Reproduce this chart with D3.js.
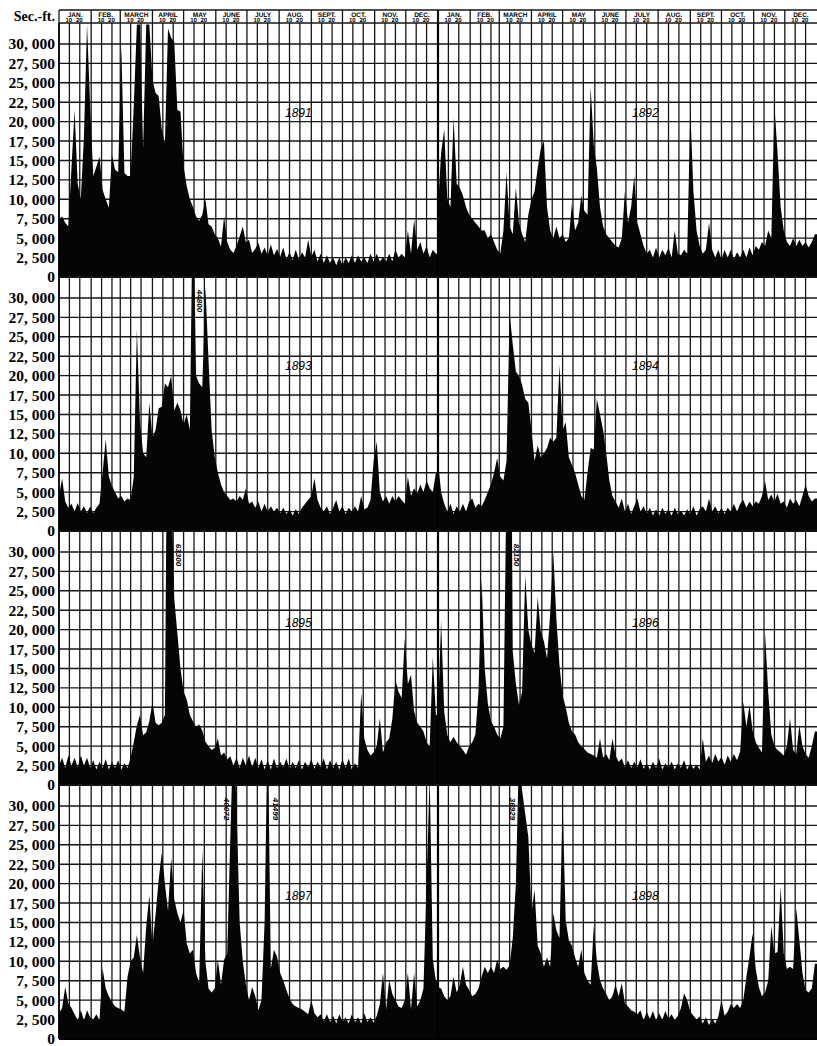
<!DOCTYPE html>
<html>
<head>
<meta charset="utf-8">
<script src="https://cdnjs.cloudflare.com/ajax/libs/d3/7.8.5/d3.min.js"></script>
<style>
  body { margin: 0; background: #fff; }
  svg { display: block; }
</style>
</head>
<body>
<div id="chart"></div>
<script>
var flow1891 = [
  7500, 7800, 7000, 6500, 14000, 21500, 12000, 10000, 18000, 32500,
  22000, 13000, 14200, 15500, 11200, 10000, 8900, 15700, 13800, 13500,
  29700, 13400, 13000, 13000, 22000, 32500, 32500, 16600, 32500, 32500,
  25400, 23700, 23300, 19000, 17200, 32000, 30800, 30300, 21500, 21300,
  14200, 11700, 10000, 9000, 7800, 7200, 8000, 10000, 6800, 6500,
  5500, 5000, 3900, 7800, 4500, 3500, 3100, 4000, 5200, 6500,
  4400, 4800, 3100, 3600, 4400, 3000, 3800, 2800, 4200, 2800,
  3600, 2600, 3800, 2300, 3200, 2200, 3500, 2300, 3200, 2500,
  4800, 2600, 3500, 2000, 3000, 1800, 2800, 1800, 2500, 1500,
  2500, 1500, 2500, 1800, 2800, 1800, 2800, 2000, 2500, 1800,
  3000, 2000, 3000, 2000, 2500, 2000, 3000, 2000, 3500, 2500,
  3000, 2500, 6000, 3000, 7400, 3500, 4500, 3000, 4000, 2500,
  3500, 3000
];
var flow1892 = [
  9000, 16000, 19000, 10000, 9000, 20500, 12000, 11500, 10500, 9000,
  8000, 7500, 7000, 6500, 6000, 6000, 5000, 5500, 4500, 3500,
  3000, 6000, 13500, 6500, 5500, 11500, 7000, 5500, 4500, 8000,
  10000, 11000, 14000, 16500, 17500, 9000, 6000, 5000, 6500, 5000,
  5500, 4500, 5000, 9500, 6000, 7000, 10500, 8500, 8000, 24500,
  17000, 14000, 9000, 6500, 5500, 5000, 4500, 4000, 3800, 5000,
  11000, 7000, 9000, 13000, 7000, 5500, 4000, 3000, 3500, 2500,
  3800, 2500, 3500, 2800, 3800, 2500, 6000, 3000, 2800, 3500,
  3000, 21500, 11000, 6000, 4000, 3000, 3500, 7000, 3500, 2500,
  3500, 2300, 3500, 2500, 3500, 2300, 3200, 2500, 3500, 2500,
  3800, 2800, 4000, 3500, 4500, 4000, 6000, 5000, 22000, 16000,
  9000, 6000, 4500, 4000, 5000, 4000, 4800, 4000, 4500, 3800,
  4500, 5500
];
var flow1893 = [
  4500, 6800, 3800, 3000, 3500, 2500, 3600, 2500, 3200, 2300,
  3200, 2300, 3000, 3500, 7500, 11800, 7000, 5800, 5000, 4200,
  4500, 3800, 4200, 4000, 7000, 26000, 14000, 10000, 9500, 16500,
  12000, 13000, 15800, 16000, 19000, 18500, 20000, 15500, 16500, 15500,
  13700, 15000, 13000, 44800, 20000, 19000, 18500, 31500, 22000, 13000,
  9500, 7500, 6000, 5000, 4500, 4000, 4200, 3800, 4500, 4000,
  5500, 3500, 3800, 3000, 3800, 2500, 3500, 2500, 3200, 2500,
  3000, 2300, 3000, 2200, 2800, 2000, 2800, 2200, 3000, 3500,
  4000, 4500, 6800, 4000, 3000, 2500, 3200, 2200, 3000, 4000,
  2500, 3200, 2200, 3000, 2500, 3200, 2500, 4500, 2800, 3000,
  4000, 9000, 11500, 5000, 3800, 4500, 3500, 4500, 3800, 4500,
  4000, 3500, 7000, 4500, 5500, 4800, 6000, 5000, 6500, 5500,
  5000, 7500
];
var flow1894 = [
  9000, 5000, 3500, 2500, 3500, 2200, 3200, 2500, 3500, 2500,
  3800, 4200, 3000, 3500, 3200, 4000, 5000, 6000, 7500, 9400,
  7000, 6500, 9000, 28000, 24000, 20500, 20000, 18800, 17000, 16500,
  13000, 9000, 11000, 9500, 10000, 10700, 12000, 11500, 12000, 21400,
  13000, 14000, 9500, 8500, 7500, 6000, 4500, 4000, 7500, 10700,
  10500, 17000, 15000, 13000, 10000, 6500, 4500, 3800, 3000, 4200,
  2500, 3500, 2200, 3200, 4200, 2500, 3200, 2200, 3000, 2000,
  2800, 2000, 3000, 2200, 2800, 2000, 3000, 2200, 2600, 2000,
  2800, 2200, 3200, 2000, 2800, 3200, 2500, 4200, 2500, 3200,
  2300, 3000, 2200, 3000, 2500, 3500, 2500, 3500, 4000, 3000,
  3800, 3200, 3800, 3500, 4500, 6400, 4000, 4700, 3800, 4800,
  3500, 3800, 3000, 4200, 3500, 4000, 3200, 4500, 6000, 4500,
  3800, 4200
];
var flow1895 = [
  2500, 3500, 2200, 3800, 2500, 3500, 2300, 3800, 2500, 3500,
  2200, 3200, 2000, 3000, 2200, 3300, 2000, 3000, 2200, 3200,
  2000, 2800, 2200, 3500, 5500, 7700, 9000, 6400, 6800, 8200,
  10700, 8000, 7700, 8000, 9000, 63300, 40000, 24000, 19500, 15000,
  12000, 11000, 9000, 8200, 7500, 7800, 7000, 5600, 5000, 4500,
  4800, 6000, 3800, 4200, 3300, 3700, 2500, 3500, 2200, 3500,
  2500, 3800, 2300, 3500, 2200, 3300, 2000, 3200, 2000, 3400,
  2200, 3000, 2300, 3400, 2000, 3000, 2200, 3200, 2000, 3000,
  2300, 3300, 2100, 3000, 2300, 3400, 2000, 3200, 2200, 3000,
  2000, 3300, 2200, 3400, 2000, 2800, 2200, 11800, 6000, 4500,
  3800, 4200, 5000, 8600, 4200, 5500, 6000, 8500, 13500, 12000,
  11200, 18900, 13000, 14200, 9500, 8000, 7500, 6900, 5500, 5000,
  16500, 9000
];
var flow1896 = [
  9000, 21200, 9400, 6400, 5500, 6200, 5500, 5000, 4500, 3900,
  5000, 5500, 6500, 12000, 26600, 15000, 10500, 8200, 7500, 6500,
  6000, 7500, 40000, 82150, 17200, 13000, 10300, 12000, 27000, 20000,
  18000, 17000, 24200, 19700, 18500, 16300, 22000, 30000, 21400, 15400,
  11500, 10000, 8000, 6900, 6500, 5500, 5000, 4600, 4200, 4000,
  3800, 3500, 6000, 3500, 4000, 3200, 6000, 3800, 3000, 3400,
  2300, 3200, 2200, 3000, 2300, 3300, 2100, 2800, 2000, 3000,
  2200, 3400, 2000, 2800, 2200, 3000, 2000, 2800, 2200, 3200,
  2000, 2800, 2100, 2600, 2000, 6000, 3000, 3800, 2800, 4000,
  3000, 3600, 2600, 3800, 3000, 4000, 3200, 4300, 10700, 7500,
  10300, 7000, 5500, 4800, 4200, 19500, 12000, 6500, 5000, 4500,
  4200, 3800, 5000, 8600, 4500, 4000, 7700, 5000, 4000, 3500,
  5000, 6900
];
var flow1897 = [
  3300, 4000, 6700, 4600, 4000, 3200, 2400, 3700, 2400, 3700,
  2800, 2500, 3200, 2400, 9100, 6500, 5500, 4800, 4200, 4000,
  3800, 3500, 8000, 10000, 10500, 13400, 10500, 8500, 14500, 18500,
  12000, 16000, 20500, 24000, 20000, 16500, 23300, 18000, 16200, 15000,
  16600, 12300, 11000, 11500, 8500, 7200, 24300, 10000, 6500, 6000,
  6500, 10200, 7000, 10200, 11000, 26000, 40072, 30000, 15000, 10000,
  7000, 5000, 6700, 5500, 3700, 5000, 15000, 41499, 9000, 11500,
  10600, 8500, 7500, 6300, 5200, 4500, 4200, 4000, 3800, 3500,
  3200, 5000, 3300, 2800, 3200, 2300, 3200, 2200, 3000, 2000,
  3200, 2200, 2800, 2000, 3200, 2200, 2800, 2000, 3300, 2200,
  2800, 2100, 3000, 4500, 8500, 3800, 7600, 5800, 5000, 4200,
  4000, 5000, 8500, 3800, 8500, 4200, 5000, 6500, 20000, 34000,
  10200, 7500
];
var flow1898 = [
  6700, 6500, 5500, 5000, 5500, 8000, 6000, 7000, 9300, 7000,
  6300, 5500, 5800, 6500, 8000, 9300, 8500, 9300, 8500, 10200,
  9000, 9300, 8900, 9500, 13000, 20000, 36929, 32000, 29000, 26000,
  16200, 19200, 12000, 11000, 9300, 10500, 9300, 16200, 14000, 13000,
  30500, 15300, 12700, 12000, 10500, 9300, 11500, 8500, 7500, 7000,
  14500, 10000, 7600, 6500, 5800, 5000, 5500, 7000, 5500, 7200,
  4600, 4200, 3700, 3500, 3200, 3700, 2400, 3500, 2600, 3600,
  2400, 3300, 2500, 3600, 2600, 3200, 2400, 3000, 4000, 5900,
  5000, 3500, 3000, 2500, 2900, 2000, 2800, 1800, 2600, 2000,
  2900, 5000, 3000, 3500, 4500, 4000, 4500, 4000, 5000, 8000,
  10600, 13600, 9000, 6700, 5500, 6000, 7500, 14500, 11000, 11200,
  19600, 11000, 9000, 9300, 9000, 16800, 12700, 8500, 6300, 6000,
  6500, 9700
];

var years = [1891, 1892, 1893, 1894, 1895, 1896, 1897, 1898];
var flows = [flow1891, flow1892, flow1893, flow1894, flow1895, flow1896, flow1897, flow1898];
var stepDays = 3;

var monthNames = ["JAN.", "FEB.", "MARCH", "APRIL", "MAY", "JUNE", "JULY", "AUG.", "SEPT.", "OCT.", "NOV.", "DEC."];
var monthStarts = [0, 31, 59, 90, 120, 151, 181, 212, 243, 273, 304, 334];

var yTicks = [0, 2500, 5000, 7500, 10000, 12500, 15000, 17500, 20000, 22500, 25000, 27500, 30000];
var yTickLabels = ["0", "2, 500", "5, 000", "7, 500", "10, 000", "12, 500", "15, 000",
                   "17, 500", "20, 000", "22, 500", "25, 000", "27, 500", "30, 000"];
// the last row of the original is printed with "12, 000"
var yTickLabelsLast = ["0", "2, 500", "5, 000", "7, 500", "10, 000", "12, 000", "15, 000",
                       "17, 500", "20, 000", "22, 500", "25, 000", "27, 500", "30, 000"];

// floods that run off the top of the sheet
var peakNotes = [
  {year: 1893, day: 129, text: "44800"},
  {year: 1895, day: 105, text: "63300"},
  {year: 1896, day: 69, text: "82150"},
  {year: 1897, day: 168, text: "40072"},
  {year: 1897, day: 201, text: "41499"},
  {year: 1898, day: 78, text: "36929"}
];
var noteShift = [6, 10, 6, -7, 7, -7];

var left = 59, yearW = 379, top0 = 23, rowH = 254, yMax = 32700;
var W = 817, H = 1046;
var yearLabelDx = [226, 194], yearLabelDy = [94, 93, 96, 115];

var svg = d3.select("#chart").append("svg")
    .attr("width", W)
    .attr("height", H);

svg.append("rect").attr("width", W).attr("height", H).attr("fill", "#fff");

var gridColor = "#161616";

function xScaleFor(side) {
  var x0 = left + side * yearW;
  return d3.scaleLinear().domain([0, 365]).range([x0, x0 + yearW]);
}

// header with months
var header = svg.append("g")
    .attr("font-family", "Liberation Sans, Arial, sans-serif")
    .attr("font-weight", "bold")
    .attr("text-rendering", "geometricPrecision");
header.append("line").attr("x1", left).attr("x2", W).attr("y1", 10).attr("y2", 10)
    .attr("stroke", gridColor).attr("stroke-width", 1.4);
[0, 1].forEach(function(side) {
  var x = xScaleFor(side);
  monthStarts.forEach(function(m, i) {
    var next = i < 11 ? monthStarts[i + 1] : 365;
    header.append("line")
        .attr("x1", x(m)).attr("x2", x(m)).attr("y1", 10).attr("y2", top0)
        .attr("stroke", gridColor).attr("stroke-width", side == 1 && i == 0 ? 2.2 : 1.3);
    header.append("text")
        .attr("x", x((m + next) / 2)).attr("y", 16.5)
        .attr("text-anchor", "middle")
        .attr("font-size", 6.5)
        .text(monthNames[i]);
    [10, 20].forEach(function(d) {
      header.append("text")
          .attr("x", x(m + d) - 0.5).attr("y", 22)
          .attr("text-anchor", "middle")
          .attr("font-size", 6)
          .text(d);
    });
  });
});

svg.append("text")
    .attr("x", 55).attr("y", 21)
    .attr("text-anchor", "end")
    .attr("font-family", "Liberation Serif, Times New Roman, serif")
    .attr("font-weight", "bold")
    .attr("font-size", 14)
    .text("Sec.-ft.");

var defs = svg.append("defs");

for (var r = 0; r < 4; r++) {
  drawRow(r);
}

function drawRow(r) {
  var rowTop = top0 + r * rowH;
  var y = d3.scaleLinear().domain([0, yMax]).range([rowTop + rowH, rowTop]);
  var row = svg.append("g").attr("class", "row");

  // horizontal grid
  row.selectAll("line.h")
      .data(yTicks.slice(1).concat([yMax]))
      .enter().append("line")
      .attr("class", "h")
      .attr("x1", left).attr("x2", W)
      .attr("y1", function(d) { return y(d); })
      .attr("y2", function(d) { return y(d); })
      .attr("stroke", gridColor).attr("stroke-width", 1.4);

  [0, 1].forEach(function(side) {
    var idx = r * 2 + side;
    var x = xScaleFor(side);
    var gridDays = [];
    monthStarts.forEach(function(m) { gridDays.push(m, m + 10, m + 20); });

    row.selectAll("line.v" + side)
        .data(gridDays)
        .enter().append("line")
        .attr("class", "v" + side)
        .attr("x1", function(d) { return x(d); })
        .attr("x2", function(d) { return x(d); })
        .attr("y1", rowTop).attr("y2", rowTop + rowH)
        .attr("stroke", gridColor).attr("stroke-width", 1.3);

    var pts = flows[idx].map(function(v, i) { return {day: i * stepDays, v: v}; });
    pts.push({day: 365, v: flows[idx][flows[idx].length - 1]});

    var clipId = "clip" + idx;
    defs.append("clipPath").attr("id", clipId)
      .append("rect")
        .attr("x", x(0)).attr("y", rowTop)
        .attr("width", yearW).attr("height", rowH);

    var area = d3.area()
        .x(function(d) { return x(d.day); })
        .y0(y(0))
        .y1(function(d) { return y(d.v); });

    row.append("path")
        .datum(pts)
        .attr("clip-path", "url(#" + clipId + ")")
        .attr("fill", "#050505")
        .attr("d", area);

    row.append("text")
        .attr("x", x(0) + yearLabelDx[side])
        .attr("y", rowTop + yearLabelDy[r])
        .attr("font-family", "Liberation Sans, Arial, sans-serif")
        .attr("font-style", "italic")
        .attr("font-size", 12)
        .text(years[idx]);

    peakNotes.forEach(function(n, k) {
      if (n.year != years[idx]) return;
      var cx = x(n.day) + noteShift[k], cy = rowTop + 24;
      row.append("text")
          .attr("x", cx).attr("y", cy)
          .attr("text-anchor", "middle")
          .attr("dominant-baseline", "middle")
          .attr("transform", "rotate(90," + cx + "," + cy + ")")
          .attr("font-family", "Liberation Sans, Arial, sans-serif")
          .attr("font-style", "italic")
          .attr("font-weight", "bold")
          .attr("font-size", 8)
          .attr("fill", "#000")
          .text(n.text);
    });
  });

  // frame: left edge, year divider, baseline
  row.append("line").attr("x1", left).attr("x2", left).attr("y1", rowTop).attr("y2", rowTop + rowH)
      .attr("stroke", "#000").attr("stroke-width", 1.6);
  row.append("line").attr("x1", left + yearW).attr("x2", left + yearW).attr("y1", rowTop).attr("y2", rowTop + rowH)
      .attr("stroke", "#000").attr("stroke-width", 2.2);
  row.append("line").attr("x1", left).attr("x2", W).attr("y1", rowTop + rowH).attr("y2", rowTop + rowH)
      .attr("stroke", "#000").attr("stroke-width", 2);

  var labels = r == 3 ? yTickLabelsLast : yTickLabels;
  var yAxis = d3.axisLeft(y)
      .tickValues(yTicks)
      .tickSize(0)
      .tickPadding(4)
      .tickFormat(function(d, i) { return labels[i]; });

  var ax = svg.append("g")
      .attr("transform", "translate(" + left + ",0)")
      .call(yAxis);
  ax.select(".domain").remove();
  ax.attr("font-family", "Liberation Serif, Times New Roman, serif")
    .attr("font-size", 15.5)
    .attr("font-weight", "bold");
}
</script>
</body>
</html>
